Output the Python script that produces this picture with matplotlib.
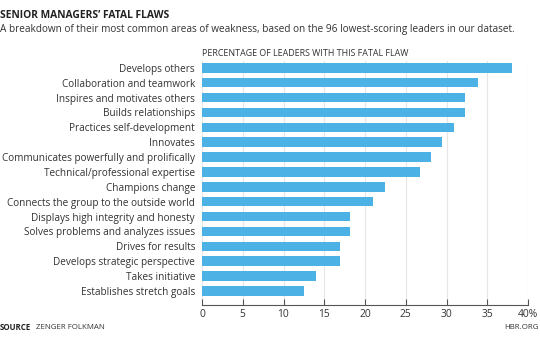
import numpy as np
import matplotlib.pyplot as plt

# Share of the 96 lowest-scoring leaders showing each fatal flaw (%)
flaws = [
    "Develops others",
    "Collaboration and teamwork",
    "Inspires and motivates others",
    "Builds relationships",
    "Practices self-development",
    "Innovates",
    "Communicates powerfully and prolifically",
    "Technical/professional expertise",
    "Champions change",
    "Connects the group to the outside world",
    "Displays high integrity and honesty",
    "Solves problems and analyzes issues",
    "Drives for results",
    "Develops strategic perspective",
    "Takes initiative",
    "Establishes stretch goals",
]
pct = [38.0, 33.8, 32.3, 32.3, 30.9, 29.4, 28.1, 26.7,
       22.4, 21.0, 18.1, 18.1, 16.9, 16.9, 14.0, 12.5]
ticks = [0, 5, 10, 15, 20, 25, 30, 35, 40]
tick_labels = ["0", "5", "10", "15", "20", "25", "30", "35", "40%"]

bar_color = "#4cb2e5"
text_color = "#333333"
plt.rcParams["font.family"] = ["Open Sans", "DejaVu Sans"]

fig = plt.figure(figsize=(5.4, 3.49), dpi=100)
ax = fig.add_axes([0.374, 0.126, 0.604, 0.699])

y = np.arange(len(flaws))
ax.barh(y, pct, height=0.64, color=bar_color, zorder=3)
ax.set_ylim(15.95, -0.45)
ax.set_xlim(0, 40)

ax.set_yticks(y)
ax.set_yticklabels(flaws, fontsize=7.2, color=text_color)
ax.tick_params(axis="y", length=0, pad=5)

ax.set_xticks(ticks)
ax.set_xticklabels(tick_labels, fontsize=7.4, color=text_color)
ax.tick_params(axis="x", direction="in", length=4, width=0.8,
               color="#555555", pad=3)

ax.grid(axis="x", color="#e6e6e6", linewidth=0.8, zorder=0)
for side in ["top", "right", "left"]:
    ax.spines[side].set_visible(False)
ax.spines["bottom"].set_color("#555555")
ax.spines["bottom"].set_linewidth(0.8)

fig.text(0.0, 0.955, "SENIOR MANAGERS\u2019 FATAL FLAWS", fontsize=7.4,
         fontweight="bold", color="#222222", va="center")
fig.text(0.0, 0.915, "A breakdown of their most common areas of weakness, "
         "based on the 96 lowest-scoring leaders in our dataset.",
         fontsize=7.2, color=text_color, va="center")
fig.text(0.374, 0.848, "PERCENTAGE OF LEADERS WITH THIS FATAL FLAW",
         fontsize=6.4, color=text_color, va="center")
fig.text(0.0, 0.063, "SOURCE", fontsize=5.7, fontweight="bold",
         color="#222222", va="center")
fig.text(0.066, 0.063, "ZENGER FOLKMAN", fontsize=5.7,
         color=text_color, va="center")
fig.text(0.997, 0.063, "HBR.ORG", fontsize=5.7, color=text_color,
         va="center", ha="right")

fig.savefig("out.png", dpi=100)
